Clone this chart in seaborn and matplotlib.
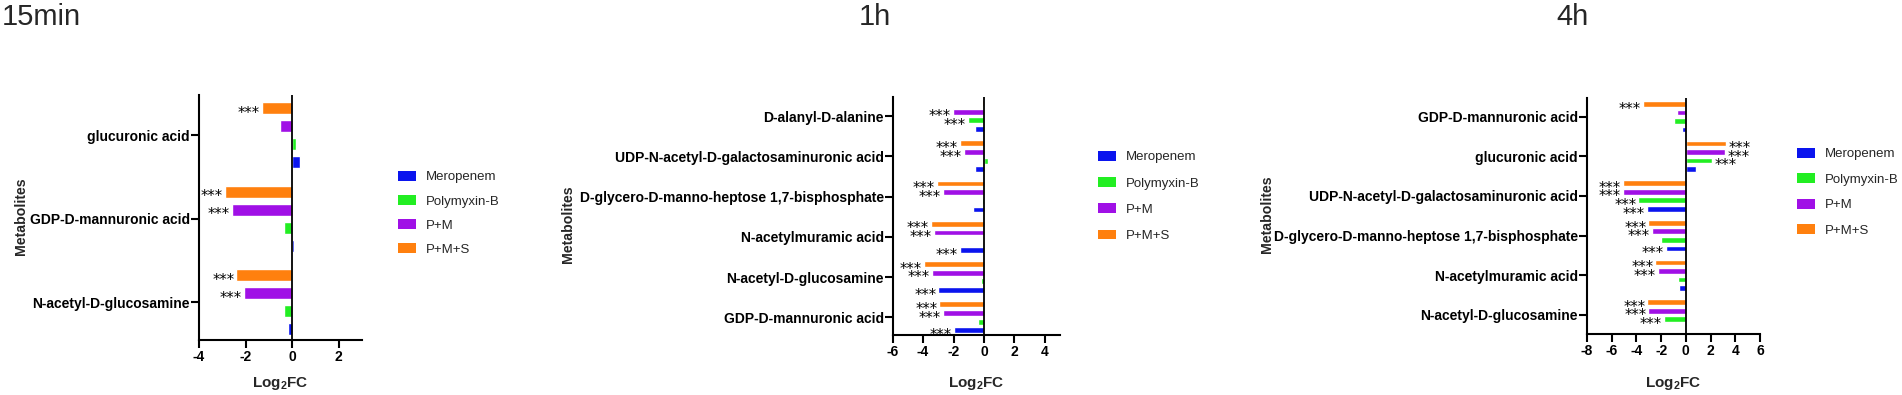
import matplotlib
matplotlib.use("Agg")
import matplotlib.pyplot as plt
import seaborn as sns
import pandas as pd
from matplotlib.patches import Patch

sns.set_theme(style="white")
plt.rcParams['font.family'] = ['Liberation Sans', 'DejaVu Sans']
plt.rcParams['mathtext.fontset'] = 'custom'
plt.rcParams['mathtext.rm'] = 'Liberation Sans'
plt.rcParams['mathtext.bf'] = 'Liberation Sans:bold'

# ---------------- data ----------------
series = ["Meropenem", "Polymyxin-B", "P+M", "P+M+S"]
colors = ["#0A14EE", "#22EE22", "#A010E6", "#FF800E"]

titles = ["15min", "1h", "4h"]

cats_15min = ["glucuronic acid", "GDP-D-mannuronic acid", "N-acetyl-D-glucosamine"]
mero_15min = [0.33, 0.07, -0.17]
poly_15min = [0.16, -0.34, -0.36]
pm_15min = [-0.53, -2.6, -2.06]
pms_15min = [-1.3, -2.9, -2.39]
sig_15min = {"Meropenem": [0, 0, 0], "Polymyxin-B": [0, 0, 0],
             "P+M": [0, 1, 1], "P+M+S": [1, 1, 1]}

cats_1h = ["D-alanyl-D-alanine", "UDP-N-acetyl-D-galactosaminuronic acid",
           "D-glycero-D-manno-heptose 1,7-bisphosphate", "N-acetylmuramic acid",
           "N-acetyl-D-glucosamine", "GDP-D-mannuronic acid"]
mero_1h = [-0.56, -0.56, -0.73, -1.56, -3.0, -1.96]
poly_1h = [-1.04, 0.25, -0.1, 0.04, -0.18, -0.38]
pm_1h = [-2.04, -1.31, -2.71, -3.27, -3.42, -2.71]
pms_1h = [-0.1, -1.6, -3.11, -3.51, -3.96, -2.93]
sig_1h = {"Meropenem": [0, 0, 0, 1, 1, 1], "Polymyxin-B": [1, 0, 0, 0, 0, 0],
          "P+M": [1, 1, 1, 1, 1, 1], "P+M+S": [0, 1, 1, 1, 1, 1]}

cats_4h = ["GDP-D-mannuronic acid", "glucuronic acid",
           "UDP-N-acetyl-D-galactosaminuronic acid",
           "D-glycero-D-manno-heptose 1,7-bisphosphate", "N-acetylmuramic acid",
           "N-acetyl-D-glucosamine"]
mero_4h = [-0.33, 0.79, -3.17, -1.6, -0.57, 0.12]
poly_4h = [-0.95, 2.14, -3.85, -2.03, -0.62, -1.76]
pm_4h = [-0.68, 3.2, -5.07, -2.76, -2.28, -3.04]
pms_4h = [-3.5, 3.28, -5.07, -3.04, -2.47, -3.12]
sig_4h = {"Meropenem": [0, 0, 1, 1, 0, 0], "Polymyxin-B": [0, 1, 1, 0, 0, 1],
          "P+M": [0, 1, 1, 1, 1, 1], "P+M+S": [1, 1, 1, 1, 1, 1]}

xticks_15min = [-4, -2, 0, 2]
xticks_1h = [-6, -4, -2, 0, 2, 4]
xticks_4h = [-8, -6, -4, -2, 0, 2, 4, 6]

# ---------------- layout (pixels) ----------------
W, H = 1902, 395
panels = [
    dict(cats=cats_15min, vals=[mero_15min, poly_15min, pm_15min, pms_15min], sig=sig_15min,
         ticks=xticks_15min, xlim=(-4, 3), box=(199, 362, 95, 340), ylim=(2.455, -0.48),
         title_x=2, ylab=(21, 216), leg=(398, 171, 0.88)),
    dict(cats=cats_1h, vals=[mero_1h, poly_1h, pm_1h, pms_1h], sig=sig_1h,
         ticks=xticks_1h, xlim=(-6, 5), box=(892.7, 1060, 97, 335), ylim=(5.44, -0.472),
         title_x=859, ylab=(568, 224), leg=(1098, 151, 1.04)),
    dict(cats=cats_4h, vals=[mero_4h, poly_4h, pm_4h, pms_4h], sig=sig_4h,
         ticks=xticks_4h, xlim=(-8, 6), box=(1587, 1760, 98, 334), ylim=(5.48, -0.47),
         title_x=1556, ylab=(1267, 214), leg=(1797, 148, 0.98)),
]

fig = plt.figure(figsize=(W / 100, H / 100), dpi=100)
draw_order = ["P+M+S", "P+M", "Polymyxin-B", "Meropenem"]
pal = dict(zip(series, colors))

for p, title in zip(panels, titles):
    l, r, t, b = p["box"]
    ax = fig.add_axes([l / W, (H - b) / H, (r - l) / W, (b - t) / H])
    rows = []
    for s, v in zip(series, p["vals"]):
        for c, val in zip(p["cats"], v):
            rows.append(dict(metabolite=c, treatment=s, value=val))
    df = pd.DataFrame(rows)
    sns.barplot(data=df, x="value", y="metabolite", hue="treatment", order=p["cats"],
                hue_order=draw_order, palette=pal, orient="h", width=0.862, gap=0.33,
                legend=False, errorbar=None, saturation=1, ax=ax)
    ax.axvline(0, color="black", lw=1.3, zorder=3)
    ax.set_xlim(*p["xlim"])
    ax.set_ylim(*p["ylim"])
    ax.set_xticks(p["ticks"])
    ax.set_xticklabels([str(v) for v in p["ticks"]], fontweight="bold", fontsize=10)
    for lab in ax.get_yticklabels():
        lab.set_fontweight("bold")
        lab.set_fontsize(10)
    for sp in ["top", "right"]:
        ax.spines[sp].set_visible(False)
    for sp in ["left", "bottom"]:
        ax.spines[sp].set_color("black")
        ax.spines[sp].set_linewidth(1.5)
    ax.tick_params(axis="both", which="major", length=5.5, width=1.5, color="black",
                   labelcolor="black", bottom=True, left=True)
    ax.tick_params(axis="y", pad=1)
    ax.tick_params(axis="x", pad=2)
    ax.set_ylabel("")
    ax.set_xlabel(r"$\mathbf{Log_2FC}$", fontsize=11)
    ax.xaxis.set_label_coords(0.5, -(375 - b) / (b - t))

    # significance stars
    for s, cont in zip(draw_order, ax.containers):
        flags = p["sig"][s]
        for bar, f in zip(cont, flags):
            if not f:
                continue
            w = bar.get_width()
            x0 = bar.get_x()
            end = x0 + w
            yc = bar.get_y() + bar.get_height() / 2
            if end < 0 or (w < 0):
                ax.annotate("***", (min(x0, end), yc), xytext=(-1.5, -7.0),
                            textcoords="offset points", ha="right", va="baseline",
                            fontsize=10.5, family="DejaVu Sans", color="black")
            else:
                ax.annotate("***", (max(x0, end), yc), xytext=(1.5, -7.0),
                            textcoords="offset points", ha="left", va="baseline",
                            fontsize=10.5, family="DejaVu Sans", color="black")

    # title and y label
    fig.text(p["title_x"] / W, 1 - 3 / H, title, fontsize=21, ha="left", va="top")
    fig.text(p["ylab"][0] / W, 1 - p["ylab"][1] / H, "Metabolites", rotation=90,
             fontweight="bold", fontsize=10.2, ha="center", va="center")

    # legend
    lx, ly, lsp = p["leg"]
    handles = [Patch(facecolor=pal[s], edgecolor="none") for s in series]
    ax.legend(handles, series, loc="upper left", bbox_to_anchor=(lx / W, 1 - ly / H),
              bbox_transform=fig.transFigure, frameon=False, fontsize=9.5,
              handlelength=1.36, handleheight=0.76, handletextpad=0.76,
              labelspacing=lsp, borderpad=0, borderaxespad=0)

fig.savefig("out.png", dpi=100)
